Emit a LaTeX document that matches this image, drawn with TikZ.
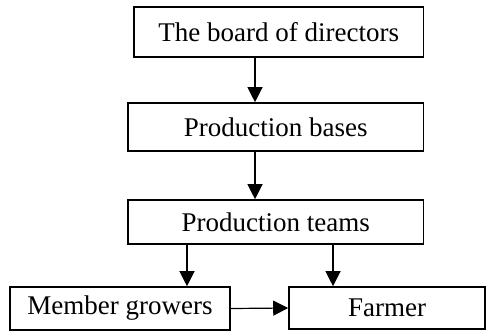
\documentclass[tikz,border=0pt]{standalone}
\usepackage{fontspec}
\setmainfont{Liberation Serif}
\usetikzlibrary{arrows.meta}
\begin{document}
\begin{tikzpicture}[x=1pt,y=1pt,
  box/.style={draw, line width=1.6pt, inner sep=0pt, anchor=center,
    font=\fontsize{27}{30}\selectfont},
  arr/.style={draw, line width=1.2pt, -{Triangle[length=15pt,width=15pt]}}]
\useasboundingbox (0,0) rectangle (486,333);
% organisation levels
\node[box, minimum width=289.5pt, minimum height=50pt] (b1) at (278.75,301) {The board of directors};
\node[box, minimum width=295.5pt, minimum height=48pt] (b2) at (275.75,206) {Production bases};
\node[box, minimum width=295.5pt, minimum height=44pt] (b3) at (275.75,111) {Production teams};
\node[box, minimum width=220pt, minimum height=43pt] (b4) at (120,24.5) {Member growers};
\node[box, minimum width=196pt, minimum height=42pt] (b5) at (387,25) {Farmer};
% arrow columns
\coordinate (cA) at (255,0);
\coordinate (cB) at (187,0);
\coordinate (cC) at (333,0);
\draw[arr] (b1.south -| cA) -- (b2.north -| cA);
\draw[arr] (b2.south -| cA) -- (b3.north -| cA);
\draw[arr] (b3.south -| cB) -- (b4.north -| cB);
\draw[arr] (b3.south -| cC) -- (b5.north -| cC);
\draw[arr] (b4.east) -- (b5.west);
\end{tikzpicture}
\end{document}
